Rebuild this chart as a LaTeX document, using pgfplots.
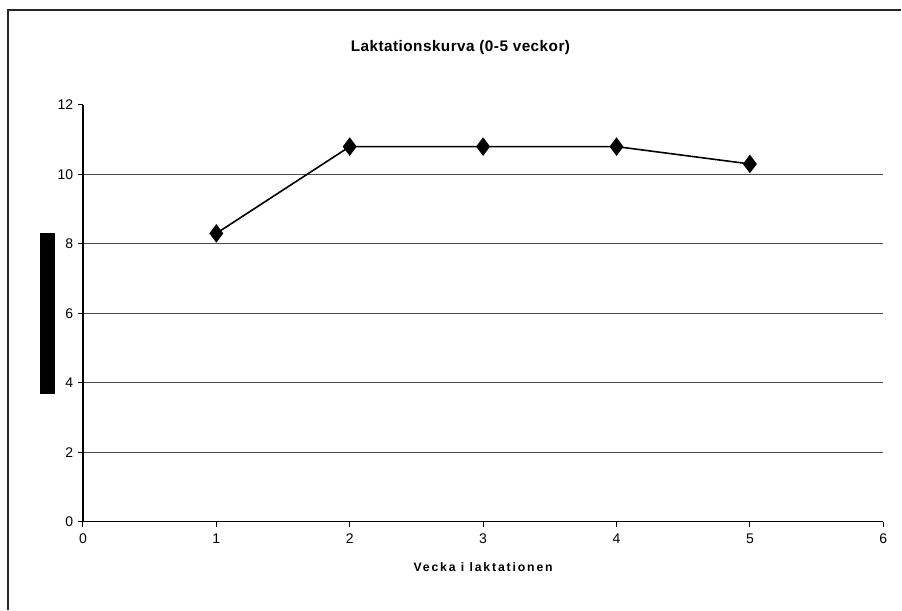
\documentclass[border=0pt]{standalone}
\usepackage{fontspec}
\setmainfont{Liberation Sans}
\usepackage{pgfplots}
\pgfplotsset{compat=1.18}

\begin{document}
\begin{tikzpicture}
\begin{axis}[
  scale only axis,
  width=600.75pt, height=312.75pt,
  xmin=0, xmax=6, ymin=0, ymax=12,
  xtick={0,...,6},
  ytick={0,2,...,10},
  extra y ticks={12},
  extra tick style={grid=none},
  axis lines*=left,
  axis line style={black, line width=0.9pt},
  ymajorgrids,
  grid style={black!70, line width=0.6pt},
  tick align=outside,
  major tick length=3.75pt,
  tick style={black, line width=0.7pt},
  /pgf/number format/assume math mode=true,
  ticklabel style={font=\fontsize{10.5}{12}\selectfont},
  xticklabel style={yshift=-2pt},
  clip=false,
]
\addplot[black, line width=1.2pt, mark=diamond*, mark size=6pt,
  mark options={solid, fill=black}]
  coordinates {(1,8.3) (2,10.8) (3,10.8) (4,10.8) (5,10.3)};

% title and axis label
\node[font=\bfseries\fontsize{11.5}{13}\selectfont\addfontfeature{LetterSpace=3}] at (axis cs:2.83,13.64) {Laktationskurva (0-5 veckor)};
\node[font=\bfseries\fontsize{9.2}{11}\selectfont\addfontfeature{LetterSpace=15}] at (axis cs:3.0,-1.30) {Vecka i laktationen};

% y-axis label block
\fill[black] (axis cs:-0.322,3.68) rectangle (axis cs:-0.210,8.32);

% chart area frame
\draw[black!85, line width=1.1pt] (axis cs:-0.5618,-2.532) |- (axis cs:6.1348,14.734);

% page extent
\path (axis cs:-0.6217,-2.532) rectangle (axis cs:6.1348,15.022);
\end{axis}
\end{tikzpicture}
\end{document}
